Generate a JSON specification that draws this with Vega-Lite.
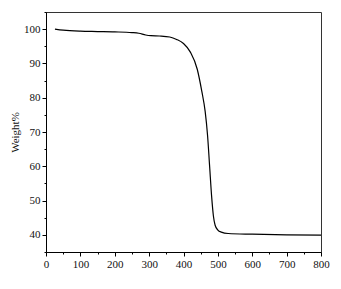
{
  "$schema": "https://vega.github.io/schema/vega-lite/v6.json",
  "width": 275,
  "height": 240,
  "autosize": {"type": "none"},
  "padding": {"left": 46, "top": 12, "right": 20, "bottom": 37},
  "background": "white",
  "config": {
    "view": {"stroke": "#333", "strokeWidth": 1},
    "font": "Liberation Serif",
    "axis": {
      "labelFont": "Liberation Serif",
      "titleFont": "Liberation Serif",
      "labelFontSize": 11,
      "titleFontSize": 11,
      "labelColor": "#111",
      "titleColor": "#111",
      "domainColor": "#000",
      "tickColor": "#000",
      "grid": false,
      "titleFontWeight": "normal"
    }
  },
  "data": {
    "values": [
      {"t": 26, "w": 100.0},
      {"t": 50, "w": 99.7},
      {"t": 100, "w": 99.4},
      {"t": 150, "w": 99.3},
      {"t": 200, "w": 99.2},
      {"t": 250, "w": 99.0},
      {"t": 270, "w": 98.8},
      {"t": 290, "w": 98.3},
      {"t": 305, "w": 98.1},
      {"t": 330, "w": 98.0},
      {"t": 360, "w": 97.7},
      {"t": 380, "w": 97.0},
      {"t": 400, "w": 95.8},
      {"t": 420, "w": 93.3},
      {"t": 440, "w": 88.3},
      {"t": 453, "w": 82.0},
      {"t": 463, "w": 76.0},
      {"t": 470, "w": 69.0},
      {"t": 476, "w": 60.0},
      {"t": 482, "w": 51.0},
      {"t": 487, "w": 45.5},
      {"t": 492, "w": 42.8},
      {"t": 500, "w": 41.4},
      {"t": 510, "w": 40.8},
      {"t": 530, "w": 40.4},
      {"t": 600, "w": 40.2},
      {"t": 700, "w": 40.0},
      {"t": 800, "w": 39.9}
    ]
  },
  "mark": {"type": "line", "color": "#000", "strokeWidth": 1.2, "interpolate": "monotone"},
  "encoding": {
    "x": {
      "field": "t",
      "type": "quantitative",
      "scale": {"domain": [0, 800], "nice": false},
      "axis": {
        "title": null,
        "values": [0, 50, 100, 150, 200, 250, 300, 350, 400, 450, 500, 550, 600, 650, 700, 750, 800],
        "labelExpr": "datum.value % 100 === 0 ? datum.label : ''",
        "tickSize": {"condition": {"test": "datum.value % 100 === 0", "value": 4}, "value": 2},
        "labelPadding": 2,
        "labelFlush": false,
        "labelOverlap": false
      }
    },
    "y": {
      "field": "w",
      "type": "quantitative",
      "scale": {"domain": [35, 105], "nice": false, "zero": false},
      "axis": {
        "title": "Weight%",
        "values": [35, 40, 45, 50, 55, 60, 65, 70, 75, 80, 85, 90, 95, 100, 105],
        "labelExpr": "datum.value % 10 === 0 && datum.value <= 100 ? datum.label : ''",
        "tickSize": {"condition": {"test": "datum.value % 10 === 0", "value": 4}, "value": 2},
        "labelPadding": 2,
        "labelFlush": false,
        "labelOverlap": false,
        "titlePadding": 3
      }
    }
  }
}
